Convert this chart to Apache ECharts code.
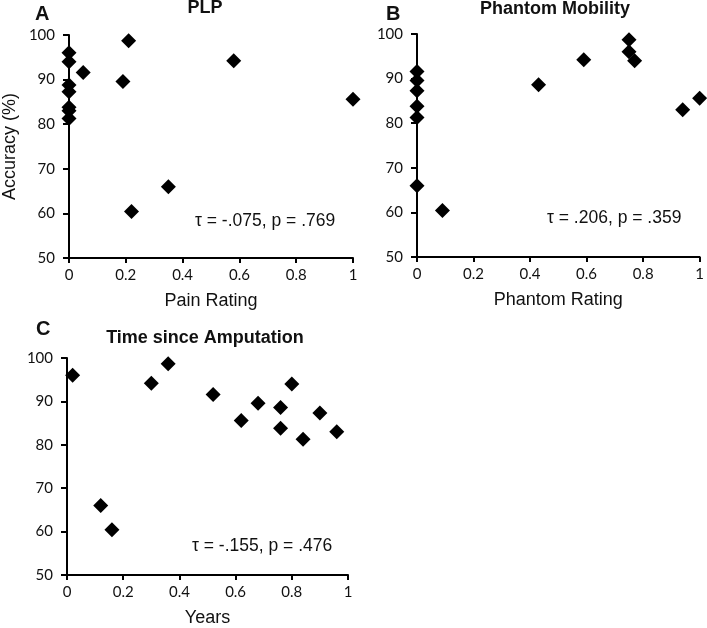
<!DOCTYPE html>
<html><head><meta charset="utf-8">
<script src="https://cdn.jsdelivr.net/npm/echarts@6/dist/echarts.min.js"></script>
<style>html,body{margin:0;padding:0;background:#fff}#c{width:707px;height:628px}</style>
</head><body><div id="c"></div>
<script>
// Panel A: PLP
const painRating = [0, 0, 0, 0, 0, 0, 0, 0.05, 0.19, 0.21, 0.22, 0.35, 0.58, 1.0];
const painAccuracy = [96.0, 94.0, 88.8, 87.3, 83.8, 83.0, 81.3, 91.6, 89.6, 98.7, 60.4, 66.0, 94.2, 85.6];
// Panel B: Phantom Mobility
const phantomRating = [0, 0, 0, 0, 0, 0, 0.09, 0.43, 0.59, 0.75, 0.75, 0.77, 0.94, 1.0];
const phantomAccuracy = [91.6, 89.6, 87.3, 83.8, 81.3, 66.0, 60.4, 88.6, 94.2, 98.7, 96.0, 94.0, 83.0, 85.6];
// Panel C: Time since Amputation
const years = [0.02, 0.12, 0.16, 0.30, 0.36, 0.52, 0.62, 0.68, 0.76, 0.76, 0.80, 0.84, 0.90, 0.96];
const yearsAccuracy = [96.0, 66.0, 60.4, 94.2, 98.7, 91.6, 85.6, 89.6, 88.6, 83.8, 94.0, 81.3, 87.3, 83.0];

const panelTitles = ['PLP', 'Phantom Mobility', 'Time since Amputation'];
const panelLetters = ['A', 'B', 'C'];
const xNames = ['Pain Rating', 'Phantom Rating', 'Years'];
const yName = 'Accuracy (%)';
const statTexts = ['τ = -.075, p = .769', 'τ = .206, p = .359', 'τ = -.155, p = .476'];

const chart = echarts.init(document.getElementById('c'));
const tickFont = 'Lato';
const labFont = '"Liberation Sans", Arial, sans-serif';

function pairs(xs, ys) { return xs.map((x, i) => [x, ys[i]]); }

const grids = [
  {left: 68, top: 35, width: 285, height: 223},
  {left: 417, top: 34, width: 283, height: 223},
  {left: 67, top: 358, width: 281, height: 223}
];

const axisLine = {show: true, onZero: false, lineStyle: {color: '#000', width: 2}};
const xAxes = xNames.map((n, i) => ({
  gridIndex: i, type: 'value', min: 0, max: 1, interval: 0.2,
  name: n, nameLocation: 'middle', nameGap: 34,
  nameTextStyle: {fontFamily: labFont, fontSize: 18, color: '#111'},
  axisLine: axisLine,
  axisTick: {show: true, length: 5, lineStyle: {color: '#000', width: 2}},
  axisLabel: {fontFamily: tickFont, fontSize: 15, color: '#111', margin: 10},
  splitLine: {show: false}
}));
const yAxes = [0, 1, 2].map(i => ({
  gridIndex: i, type: 'value', min: 50, max: 100, interval: 10,
  name: i === 0 ? yName : '', nameLocation: 'middle', nameGap: 50,
  nameTextStyle: {fontFamily: labFont, fontSize: 18, color: '#111'},
  axisLine: axisLine,
  axisTick: {show: true, length: 6, lineStyle: {color: '#000', width: 2}},
  axisLabel: {fontFamily: tickFont, fontSize: 15, color: '#111', margin: 14},
  splitLine: {show: false}
}));

const dataSets = [pairs(painRating, painAccuracy), pairs(phantomRating, phantomAccuracy), pairs(years, yearsAccuracy)];
const series = dataSets.map((d, i) => ({
  type: 'scatter', xAxisIndex: i, yAxisIndex: i, data: d,
  symbol: 'diamond', symbolSize: [15, 15], clip: false, z: 3,
  itemStyle: {color: '#000', opacity: 1}, silent: true
}));

const titleCenters = [[205, -1], [555, 0], [205, 329]];
const letterPos = [[35, 4], [386, 4], [36, 319]];
const titles = [];
panelTitles.forEach((t, i) => {
  titles.push({text: t, left: titleCenters[i][0], top: titleCenters[i][1], textAlign: 'center', padding: 0,
    textStyle: {fontFamily: labFont, fontSize: 18, fontWeight: 'bold', color: '#111'}});
  titles.push({text: panelLetters[i], left: letterPos[i][0], top: letterPos[i][1], padding: 0,
    textStyle: {fontFamily: labFont, fontSize: 20, fontWeight: 'bold', color: '#111'}});
});

const statPos = [[195, 222], [547, 219], [192, 547]];
const graphic = statTexts.map((t, i) => ({
  type: 'text', left: statPos[i][0], top: statPos[i][1] - 10,
  style: {text: t, fontFamily: labFont, fontSize: 17.5, fill: '#111'}
}));

chart.setOption({
  animation: false,
  backgroundColor: '#fff',
  title: titles,
  grid: grids,
  xAxis: xAxes,
  yAxis: yAxes,
  series: series,
  graphic: graphic
});
</script></body></html>
